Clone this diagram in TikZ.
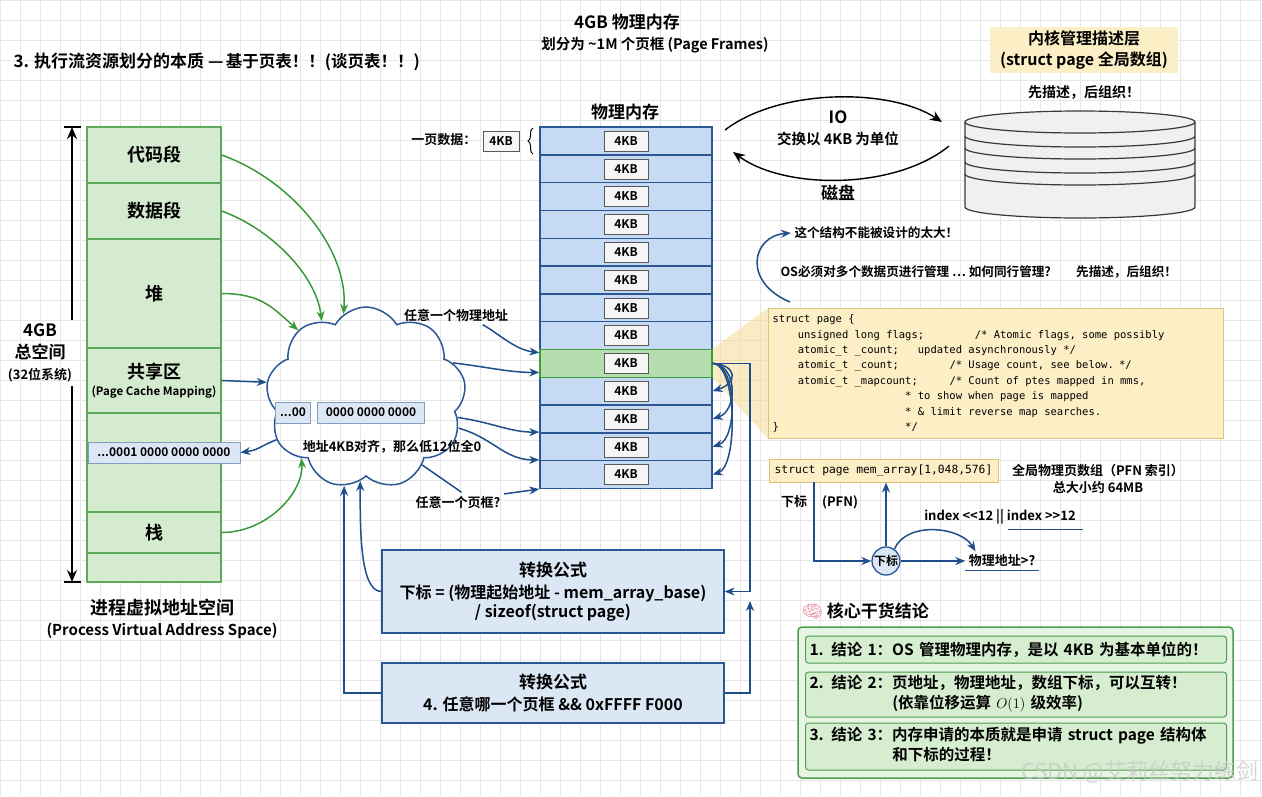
\documentclass[tikz,border=0pt]{standalone}
\usepackage{fontspec}
\setmainfont{Noto Sans CJK SC}[BoldFont={Noto Sans CJK SC Bold}]
\setmonofont{DejaVu Sans Mono}
\newfontfamily\emojifont{Noto Emoji}
\usetikzlibrary{arrows.meta,shapes.symbols,decorations.pathreplacing,backgrounds}
\newcommand\codefont[2]{\ttfamily\fontsize{#1}{#2}\selectfont}
\newcommand\monospace{\spaceskip=0.602em\relax}

\definecolor{seggreen}{HTML}{D5EBCF}
\definecolor{segline}{HTML}{5DAA5A}
\definecolor{memblue}{HTML}{C6DAF3}
\definecolor{memline}{HTML}{2B5797}
\definecolor{hotgreen}{HTML}{B5DDB0}
\definecolor{hotline}{HTML}{3E9E3E}
\definecolor{arrblue}{HTML}{1F4E8C}
\definecolor{arrgreen}{HTML}{3A9A3A}
\definecolor{boxblue}{HTML}{DCE7F6}
\definecolor{codeyellow}{HTML}{FCEFC6}
\definecolor{codeline}{HTML}{DCC27A}
\definecolor{wedge}{HTML}{F9D98A}
\definecolor{gridgray}{HTML}{E6E6E6}
\definecolor{concgreen}{HTML}{E6F4E2}
\definecolor{concinner}{HTML}{D6EDD0}
\definecolor{concline}{HTML}{4E9E4E}
\definecolor{brainpink}{HTML}{E8899A}

\tikzset{
  gridline/.style={gridgray, line width=0.5pt},
  seg/.style={draw=segline, fill=seggreen, line width=1.2pt, minimum width=134pt, inner sep=0pt, font=\bfseries\fontsize{18}{20}\selectfont},
  pagerow/.style={draw=memline, fill=memblue, line width=1.4pt, minimum width=172pt, minimum height=27.8pt, inner sep=0pt},
  hotrow/.style={pagerow, draw=hotline, fill=hotgreen},
  kb/.style={draw=gray!70!black, fill=gray!8, minimum width=44pt, minimum height=20pt, inner sep=0pt, font=\bfseries\fontsize{12}{14}\selectfont},
  addr/.style={draw=arrblue!55, fill=boxblue, line width=0.9pt, minimum height=21pt, inner sep=3pt, font=\bfseries\fontsize{12}{14}\selectfont},
  formula/.style={draw=memline, fill=boxblue, line width=1.2pt, minimum width=342pt, align=center, font=\bfseries\fontsize{16}{22}\selectfont},
  barrow/.style={draw=arrblue, line width=1.5pt, -{Stealth[length=10pt,width=8pt]}},
  garrow/.style={draw=arrgreen, line width=1.5pt, -{Stealth[length=10pt,width=8pt]}},
  karrow/.style={draw=black, line width=1.4pt, -{Stealth[length=12pt,width=10pt]}},
  lbl/.style={font=\bfseries\fontsize{13}{15}\selectfont},
  big/.style={font=\bfseries\fontsize{17}{21.5}\selectfont},
  note/.style={font=\bfseries\fontsize{12.6}{14}\selectfont, anchor=west},
  concbox/.style={draw=concline, fill=concinner, line width=1pt, rounded corners=3pt, minimum width=421pt, text width=413pt, align=left, inner xsep=4pt, inner ysep=2pt, anchor=west, font=\bfseries\fontsize{15.5}{20}\selectfont}
}

\begin{document}
\begin{tikzpicture}[x=1pt,y=-1pt]
    \useasboundingbox (0,0) rectangle (1262,796);
    \begin{pgfonlayer}{background}
        \fill[white] (0,0) rectangle (1262,796);
        \foreach \gx in {0,20,...,1260}
            \draw[gridline] (\gx,0) -- (\gx,796);
        \foreach \gy in {0,20,...,780}
            \draw[gridline] (0,\gy) -- (1262,\gy);
    \end{pgfonlayer}

    \node[anchor=west, font=\bfseries] (title) at (10,62) {{\fontsize{17}{20}\selectfont 3. 执行流资源划分的本质 —} {\fontsize{16.5}{18}\selectfont 基于页表！！(谈页表！！)}};
    \node[big] (pmtitle) at (627,22) {4GB 物理内存};
    \node[lbl, font=\bfseries\fontsize{14.5}{16}\selectfont] (pmsub) at (655,45) {划分为 \textasciitilde1M 个页框 (Page Frames)};

    % virtual address space
    \node[seg, minimum height=56pt] (vcode) at (154,155) {代码段};
    \node[seg, minimum height=56pt] (vdata) at (154,211) {数据段};
    \node[seg, minimum height=109pt] (vheap) at (154,293.5) {堆};
    \node[seg, minimum height=65pt, align=center] (vshm) at (154,380.5) {共享区\\[-3pt]{\fontsize{11.5}{13}\selectfont (Page Cache Mapping)}};
    \node[seg, minimum height=99pt] (vgap) at (154,462.5) {};
    \node[seg, minimum height=41pt] (vstack) at (154,532.5) {栈};
    \node[seg, minimum height=29pt] (vtail) at (154,567.5) {};
    \node[addr, minimum width=152pt] (vaddr) at (164,452.5) {...0001 0000 0000 0000};

    \node[big, align=center] (vsize) at (40,353) {4GB\\总空间\\{\fontsize{13}{15}\selectfont (32位系统)}};
    \coordinate (dimtop) at (72,127);
    \coordinate (dimbot) at (72,582);
    \draw[karrow] (vsize.north -| dimtop) -- (dimtop);
    \draw[karrow] (vsize.south -| dimbot) -- (dimbot);
    \draw[line width=1.2pt] (64,127) -- (81,127) (64,582) -- (81,582);
    \node[big, align=center] (vtitle) at (162,619) {{\fontsize{18}{22}\selectfont 进程虚拟地址空间}\\{\fontsize{15}{18}\selectfont (Process Virtual Address Space)}};

    % cloud
    \node[cloud, draw=memline, line width=1.5pt, cloud puffs=9, cloud puff arc=120, aspect=1.1, minimum width=200pt, minimum height=182pt, inner sep=0pt] (cl) at (366,398) {};
    \node[addr, minimum width=35pt] (lowhi) at (293,412.5) {...00};
    \node[addr, minimum width=107pt] (lowbits) at (371,412.5) {0000 0000 0000};
    \node[lbl] (aligned) at (392,447) {地址4KB对齐，那么低12位全0};

    % physical memory
    \node[big] (pmhead) at (625,112) {物理内存};
    \foreach \i in {1,...,13}
        \node[pagerow] (p\i) at (626,{140.9+27.8*(\i-1)}) {};
    \node[hotrow] at (p9) {};
    \foreach \i in {1,...,13}
        \node[kb] (k\i) at (p\i) {4KB};
    \node[kb, minimum width=36pt] (onekb) at (501,141.5) {4KB};
    \node[lbl, anchor=east] (onepage) at (480,140) {一页数据：};
    \draw[decorate, decoration={brace, amplitude=5pt}, line width=1pt] (533,154) -- (533,128);

    % IO and disk
    \node[big] (io) at (838,117) {IO};
    \node[lbl, font=\bfseries\fontsize{14.5}{16}\selectfont] (iosub) at (838,139) {交换以 4KB 为单位};
    \node[big] (disklbl) at (838,193) {磁盘};
    \draw[karrow] (725,130) .. controls (780,88) and (890,88) .. (942,122);
    \draw[karrow] (949,146) .. controls (895,190) and (785,190) .. (733,152);
    \draw[draw=gray!45!black, fill=gray!12, line width=1.2pt] (965,122) -- (965,207) arc[start angle=180, end angle=0, x radius=115, y radius=11] -- (1195,122);
    \foreach \sy in {136,148,162,174}
        \draw[draw=gray!45!black, line width=1.2pt] (965,\sy) arc[start angle=180, end angle=0, x radius=115, y radius=11];
    \draw[draw=gray!45!black, fill=gray!12, line width=1.2pt] (1080,122) ellipse[x radius=115, y radius=11];

    \node[fill=codeyellow, minimum width=188pt, minimum height=46pt, align=center, font=\bfseries\fontsize{16}{21}\selectfont] (klayer) at (1084,50) {内核管理描述层\\(struct page 全局数组)};
    \node[lbl, font=\bfseries\fontsize{14}{16}\selectfont] (motto) at (1084,92) {先描述，后组织！};

    % struct page
    \node[note] (toobig) at (791,233) {这个结构不能被设计的太大！};
    \node[note] (osmgr) at (777,272) {OS必须对多个数据页进行管理 … 如何同行管理?\quad\quad 先描述，后组织！};
    \node[draw=codeline, fill=codeyellow, line width=1pt, anchor=north west, minimum width=455pt, minimum height=130pt, text width=447pt, inner sep=4pt, align=left, font=\codefont{10.5}{15.4}] (spage) at (768,308) {\monospace struct page \{\\
~~~~unsigned long flags;~~~~~~~~/* Atomic flags, some possibly\\
~~~~atomic\_t \_count;~~~updated asynchronously */\\
~~~~atomic\_t \_count;~~~~~~~~/* Usage count, see below. */\\
~~~~atomic\_t \_mapcount;~~~~~/* Count of ptes mapped in mms,\\
~~~~~~~~~~~~~~~~~~~~~* to show when page is mapped\\
~~~~~~~~~~~~~~~~~~~~~* \& limit reverse map searches.\\
\}~~~~~~~~~~~~~~~~~~~~*/};
    \begin{pgfonlayer}{background}
        \fill[wedge, opacity=0.5] (p9.north east) -- (spage.north west) -- (spage.south west) -- (p9.south east) -- cycle;
    \end{pgfonlayer}
    \coordinate (toobigfrom) at (790,302);
    \draw[barrow] (toobigfrom) .. controls (742,282) and (752,236) .. (toobig.west);

    % mem_array
    \node[draw=codeline, fill=codeyellow, line width=1pt, minimum width=229pt, minimum height=23pt, inner sep=0pt, font=\codefont{11.3}{13}] (marr) at (883.5,470.5) {struct page mem\_array[1,048,576]};
    \node[lbl, align=center, font=\bfseries\fontsize{13}{17}\selectfont] (marrnote) at (1098,478.5) {全局物理页数组（PFN 索引）\\总大小约 64MB};
    \node[lbl] (sub1) at (794,502) {下标};
    \node[lbl] (pfn) at (840,502) {(PFN)};
    \node[circle, draw=memline, fill=boxblue, line width=1.3pt, minimum size=28pt, inner sep=0pt, font=\bfseries\fontsize{12}{14}\selectfont] (idx) at (886,561) {下标};
    \node[lbl] (paddr) at (1002,561) {物理地址>?};
    \node[lbl] (shift) at (1000,517) {index <{}<12 || index >{}>12};
    \coordinate (pfnline) at (814,482);
    \draw[barrow] (pfnline) |- (idx);
    \draw[barrow] (idx) -- (idx |- marr.south);
    \draw[barrow] (idx) -- (paddr);
    \draw[barrow] (idx.55) .. controls +(12,-28) and +(-15,-25) .. (paddr.160);
    \draw[arrblue, line width=1pt] (paddr.south west) -- (paddr.south east);
    \draw[arrblue, line width=1pt] (1008,529) -- (1083,529);

    % formulas
    \node[formula, minimum height=83pt] (f1) at (553,591.5) {{\fontsize{17}{20}\selectfont 转换公式}\\下标 = (物理起始地址 - mem\_array\_base)\\[-3pt]/ sizeof(struct page)};
    \node[formula, minimum height=60pt] (f2) at (553,693) {{\fontsize{17}{20}\selectfont 转换公式}\\4. 任意哪一个页框 \&\& 0xFFFF F000};

    % connectors
    \draw[garrow] (vcode.east) .. controls +(70,25) and +(5,-65) .. (cl.105);
    \draw[garrow] (vdata.east) .. controls +(50,18) and +(-5,-45) .. (cl.120);
    \draw[garrow] (vheap.east) .. controls +(40,0) and +(-25,-22) .. (cl.135);
    \draw[garrow] (vstack.east) .. controls +(45,0) and +(2,35) .. (cl.223);
    \draw[barrow] (vshm.east) -- (cl.171);
    \draw[barrow] (cl.205) .. controls +(-20,8) and +(20,-3) .. (vaddr.east);

    \node[lbl] (anyaddr) at (456,315) {任意一个物理地址};
    \node[lbl] (anyframe) at (458,502) {任意一个页框?};
    \draw[barrow] (anyaddr.-20) .. controls +(15,8) and +(-25,-3) .. (p9.173);
    \draw[barrow] (cl.22) .. controls +(40,5) and +(-30,0) .. (p9.186);
    \draw[barrow] (cl.-12) .. controls +(35,5) and +(-30,0) .. (p12.north west);
    \draw[barrow] (cl.-18) .. controls +(35,10) and +(-35,0) .. (p13.north west);
    \draw[arrblue, line width=1.5pt] (cl.-50) -- (anyframe.70);
    \draw[barrow] (anyframe.10) -- (p13.south west);

    \foreach \j in {10,...,13}
        \draw[barrow] (p9.east) .. controls +(25,2) and +(25,-8) .. (p\j.east);
    \coordinate (rail) at (750,0);
    \coordinate (railtip) at (750,601);
    \draw[barrow] (p9.east) -- (p9.east -| rail) |- (f1.east);
    \draw[barrow] (f2.east) -| (railtip);
    \draw[barrow] (f2.west) -| (cl.256);
    \draw[barrow] (f1.west) .. controls +(-22,0) and +(0,45) .. (cl.266);

    % conclusions
    \node[anchor=west, font=\bfseries\fontsize{17}{20}\selectfont] (conchead) at (798,611) {{\emojifont\color{brainpink}🧠} 核心干货结论};
    \node[draw=concline, fill=concgreen, line width=1.5pt, rounded corners=4pt, minimum width=435pt, minimum height=151pt] (concs) at (1015.5,702.5) {};
    \node[concbox, minimum height=27pt] (c1) at (805,649.5) {1. 结论 1：OS 管理物理内存，是以 4KB 为基本单位的！};
    \node[concbox, minimum height=45pt] (c2) at (805,694.5) {\begin{tabular}{@{}l@{}l@{}}2. 结论 2：&页地址，物理地址，数组下标，可以互转！\\&(依靠位移运算 $O(1)$ 级效率)\end{tabular}};
    \node[concbox, minimum height=47pt] (c3) at (805,746.5) {\begin{tabular}{@{}l@{}l@{}}3. 结论 3：&内存申请的本质就是申请 struct page 结构体\\&和下标的过程！\end{tabular}};
    \node[font=\fontsize{22}{24}\selectfont, text=gray!45, opacity=0.7, anchor=east] (wm) at (1262,772) {CSDN @艾莉丝努力练剑};
\end{tikzpicture}
\end{document}
